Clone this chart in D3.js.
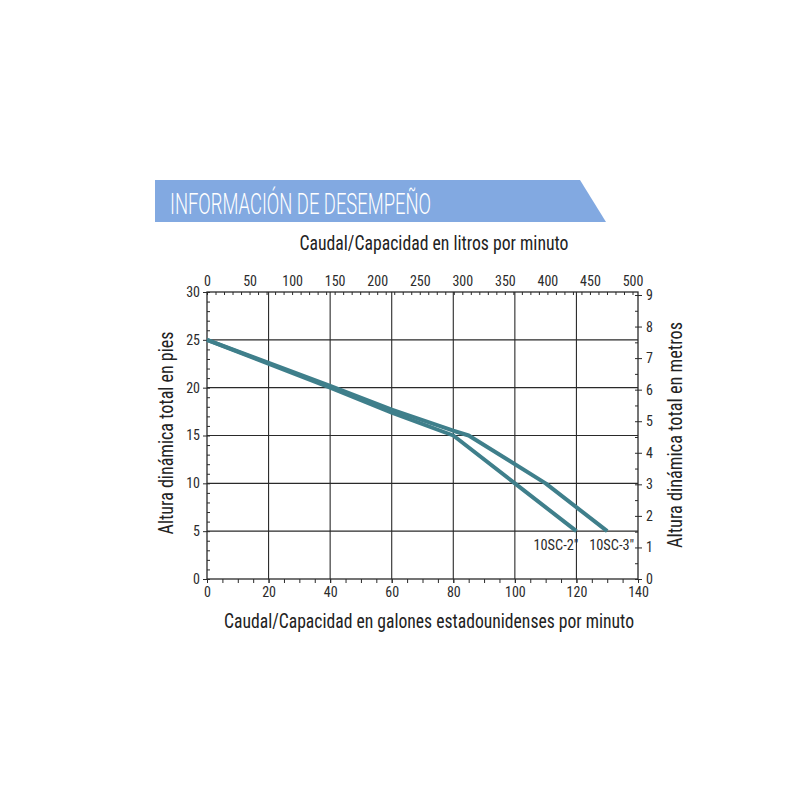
<!DOCTYPE html>
<html><head><meta charset="utf-8">
<script src="https://cdn.jsdelivr.net/npm/d3@7"></script>
<style>
body{margin:0;background:#fff;}
text{font-family:"Liberation Sans Narrow","Roboto Condensed",Roboto,"Liberation Sans",Arial,sans-serif;}
</style></head>
<body><svg id="c" width="800" height="800"></svg>
<script>
const titleBanner = "INFORMACIÓN DE DESEMPEÑO";
const topTitle = "Caudal/Capacidad en litros por minuto";
const bottomTitle = "Caudal/Capacidad en galones estadounidenses por minuto";
const leftTitle = "Altura dinámica total en pies";
const rightTitle = "Altura dinámica total en metros";

const seriesNames = ['10SC-2"', '10SC-3"'];
const gpm2 = [0, 40, 60, 80, 100, 120];
const ft2  = [25, 20, 17.4, 15, 10, 5];
const gpm3 = [0, 40, 60, 80, 85, 110, 130];
const ft3  = [25, 20.2, 17.7, 15.5, 15, 10, 5];

const gpmTicks = [0, 20, 40, 60, 80, 100, 120, 140];
const lpmTicks = [0, 50, 100, 150, 200, 250, 300, 350, 400, 450, 500];
const ftTicks = [0, 5, 10, 15, 20, 25, 30];
const mTicks = [0, 1, 2, 3, 4, 5, 6, 7, 8, 9];

const svg = d3.select("#c");
const L = 207, R = 638, T = 292, B = 579;
const x = d3.scaleLinear().domain([0, 140]).range([L, R]);
const xTop = d3.scaleLinear().domain([0, 500]).range([L, 632.5]);
const y = d3.scaleLinear().domain([0, 30]).range([B, T]);
const yR = d3.scaleLinear().domain([0, 9]).range([B, 295]);

// banner
svg.append("path")
  .attr("d", "M155,180 L580,180 L606,222 L155,222 Z")
  .attr("fill", "#82a9e1");
svg.append("text").text(titleBanner)
  .attr("x", 170).attr("y", 214)
  .attr("fill", "#fff").attr("font-size", 29)
  .style("font-family", "Roboto, sans-serif").style("font-weight", 300)
  .attr("textLength", 261).attr("lengthAdjust", "spacingAndGlyphs");

// grid
const grid = svg.append("g");
gpmTicks.slice(1, -1).forEach(v => grid.append("line")
  .attr("x1", x(v)).attr("x2", x(v)).attr("y1", T).attr("y2", B)
  .attr("stroke", "#2a2a2a").attr("stroke-width", 1.1));
ftTicks.slice(1, -1).forEach(v => grid.append("line")
  .attr("x1", L).attr("x2", R).attr("y1", y(v)).attr("y2", y(v))
  .attr("stroke", "#2a2a2a").attr("stroke-width", 1.1));

// axes
const axFont = g => g.selectAll("text").attr("font-size", 14).attr("fill", "#2b2b2b");
const axLine = g => { g.selectAll("path,line").attr("stroke", "#2b2b2b"); };

// minor ticks
const minor = (axis) => axis.tickFormat("").tickSizeOuter(0);
svg.append("g").attr("transform", `translate(0,${B})`)
  .call(minor(d3.axisBottom(x).tickValues(d3.range(0, 141, 5)).tickSize(4)))
  .call(axLine).select(".domain").remove();
svg.append("g").attr("transform", `translate(0,${T})`)
  .call(minor(d3.axisBottom(xTop).tickValues(d3.range(0, 501, 10)).tickSize(3)))
  .call(axLine).select(".domain").remove();
svg.append("g").attr("transform", `translate(${L},0)`)
  .call(minor(d3.axisRight(y).tickValues(d3.range(0, 31, 1)).tickSize(3)))
  .call(axLine).select(".domain").remove();
svg.append("g").attr("transform", `translate(${R},0)`)
  .call(minor(d3.axisLeft(yR).tickValues(d3.range(0, 9.01, 0.5)).tickSize(3)))
  .call(axLine).select(".domain").remove();

svg.append("g").attr("transform", `translate(0,${B})`)
  .call(d3.axisBottom(x).tickValues(gpmTicks).tickSize(4).tickSizeOuter(0).tickPadding(4))
  .call(axLine).call(axFont).select(".domain").remove();
svg.append("g").attr("transform", `translate(0,${T})`)
  .call(d3.axisTop(xTop).tickValues(lpmTicks).tickSize(0).tickPadding(6))
  .call(axLine).call(axFont).select(".domain").remove();
svg.append("g").attr("transform", `translate(${L},0)`)
  .call(d3.axisLeft(y).tickValues(ftTicks).tickSize(4).tickPadding(3))
  .call(axLine).call(axFont).select(".domain").remove();
svg.append("g").attr("transform", `translate(${R},0)`)
  .call(d3.axisRight(yR).tickValues(mTicks).tickSize(4).tickPadding(4))
  .call(axLine).call(axFont).select(".domain").remove();

// frame
svg.append("rect").attr("x", L).attr("y", T).attr("width", R - L).attr("height", B - T)
  .attr("fill", "none").attr("stroke", "#2a2a2a").attr("stroke-width", 1.3);

// curves
const line = d3.line().x(d => x(d[0])).y(d => y(d[1]));
const series = [d3.zip(gpm2, ft2), d3.zip(gpm3, ft3)];
series.forEach(s => svg.append("path").datum(s).attr("d", line)
  .attr("fill", "none").attr("stroke", "#3f7f8b").attr("stroke-width", 4)
  .attr("stroke-linejoin", "round").attr("stroke-linecap", "butt"));

// series labels (placed below each curve's end point)
const ends = [[gpm2[gpm2.length - 1], ft2[ft2.length - 1]], [gpm3[gpm3.length - 1], ft3[ft3.length - 1]]];
const labelShift = [-43, -18];
seriesNames.forEach((n, i) => svg.append("text").text(n)
  .attr("x", x(ends[i][0]) + labelShift[i]).attr("y", y(ends[i][1]) + 19)
  .attr("font-size", 14).attr("fill", "#2b2b2b")
  .attr("textLength", 45).attr("lengthAdjust", "spacingAndGlyphs"));

// titles
svg.append("text").text(topTitle).attr("x", 434).attr("y", 250)
  .attr("text-anchor", "middle").attr("font-size", 20).attr("fill", "#222")
  .attr("textLength", 269).attr("lengthAdjust", "spacingAndGlyphs");
svg.append("text").text(bottomTitle).attr("x", 429).attr("y", 628)
  .attr("text-anchor", "middle").attr("font-size", 20).attr("fill", "#222")
  .attr("textLength", 410).attr("lengthAdjust", "spacingAndGlyphs");
svg.append("text").text(leftTitle)
  .attr("transform", "translate(173,433) rotate(-90)")
  .attr("text-anchor", "middle").attr("font-size", 20).attr("fill", "#222")
  .attr("textLength", 203).attr("lengthAdjust", "spacingAndGlyphs");
svg.append("text").text(rightTitle)
  .attr("transform", "translate(682,435) rotate(-90)")
  .attr("text-anchor", "middle").attr("font-size", 20).attr("fill", "#222")
  .attr("textLength", 226).attr("lengthAdjust", "spacingAndGlyphs");
</script></body></html>
